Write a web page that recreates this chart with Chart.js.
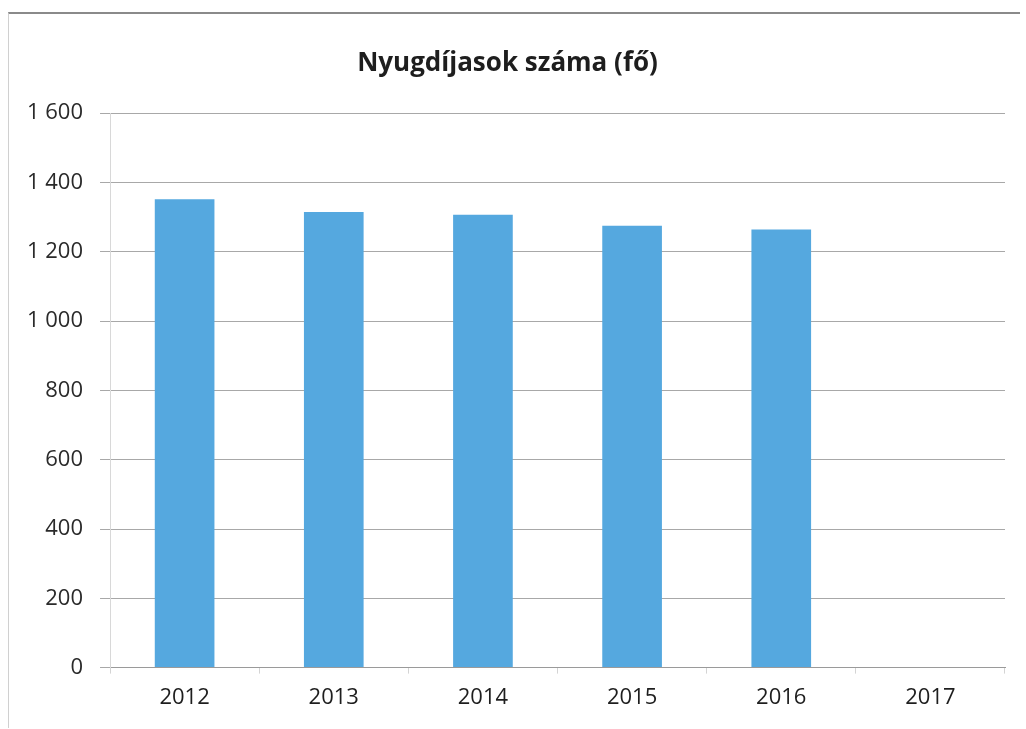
<!DOCTYPE html>
<html>
<head>
<meta charset="utf-8">
<script src="https://cdn.jsdelivr.net/npm/chart.js@4/dist/chart.umd.min.js"></script>
<style>
html,body{margin:0;padding:0;background:#fff;}
#wrap{position:absolute;left:8px;top:12px;width:1012px;height:716px;border-top:2px solid #8a8a8a;border-left:1px solid #d0d0d0;box-sizing:border-box;}
canvas{display:block;}
</style>
</head>
<body>
<div id="wrap"><canvas id="c"></canvas></div>
<script>
const categories = ["2012","2013","2014","2015","2016","2017"];
const pensioners = [1352, 1315, 1307, 1275, 1264, null];
const yTicks = [0,200,400,600,800,1000,1200,1400,1600];
const titleText = "Nyugdíjasok száma (fő)";

const ctx = document.getElementById('c');
new Chart(ctx, {
  type: 'bar',
  data: {
    labels: categories,
    datasets: [{
      data: pensioners,
      backgroundColor: '#55a8df',
      borderWidth: 0,
      barPercentage: 0.4,
      categoryPercentage: 1.0
    }]
  },
  options: {
    responsive: true,
    maintainAspectRatio: false,
    animation: false,
    layout: {padding: {left: 1, right: 15, top: 34, bottom: 6}},
    plugins: {
      legend: {display: false},
      tooltip: {enabled: false},
      title: {
        display: true,
        text: titleText,
        color: '#1e1e1e',
        font: {family: '"Open Sans", sans-serif', size: 26, weight: 'bold'},
        padding: {top: 0, bottom: 34}
      }
    },
    scales: {
      x: {
        grid: {display: true, drawOnChartArea: false, drawTicks: true, tickLength: 6, color: '#d4d4d4'},
        border: {display: true, color: '#9a9a9a', width: 1},
        ticks: {
          color: '#1e1e1e',
          font: {family: '"Open Sans", sans-serif', size: 22},
          padding: 11
        }
      },
      y: {
        min: 0,
        max: 1600,
        afterBuildTicks: (axis) => { axis.ticks = yTicks.map(v => ({value: v})); },
        grid: {color: '#a8a8a8', lineWidth: 1, drawTicks: true, tickLength: 10},
        border: {display: true, color: '#d8d8d8'},
        ticks: {
          color: '#2a2a2a',
          font: {family: '"Open Sans", sans-serif', size: 22},
          padding: 17,
          callback: (v) => String(v).replace(/\B(?=(\d{3})+(?!\d))/g, ' ')
        }
      }
    }
  }
});
</script>
</body>
</html>
